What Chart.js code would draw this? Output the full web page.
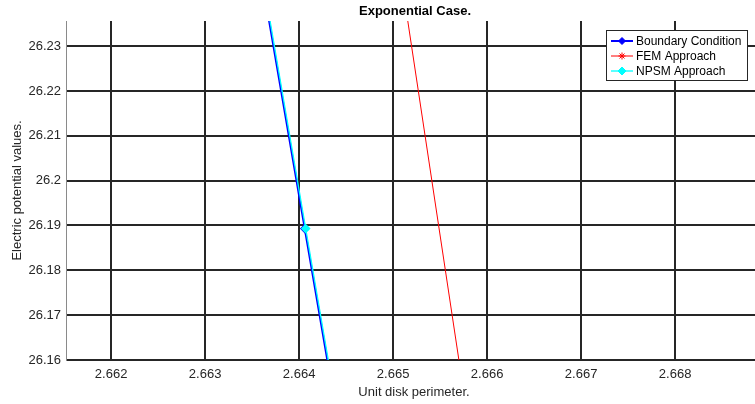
<!DOCTYPE html>
<html>
<head>
<meta charset="utf-8">
<script src="https://cdn.jsdelivr.net/npm/chart.js@4/dist/chart.umd.min.js"></script>
<style>
  html, body { margin: 0; padding: 0; background: #fff; }
  #wrap { width: 755px; height: 404px; position: relative; }
</style>
</head>
<body>
<div id="wrap"><canvas id="c" width="755" height="404"></canvas></div>
<script>
// Perimeter positions and potential values for each method
const boundaryX = [2.66315, 2.66406, 2.66500];
const boundaryY = [26.3005, 26.1893, 26.0746];
const femX = [2.66460, 2.66620];
const femY = [26.3129, 26.0905];
const npsmX = [2.66316, 2.66407, 2.66501];
const npsmY = [26.3005, 26.1893, 26.0746];

// Axis ranges and tick labels
const xRange = [2.66152, 2.66885];
const yRange = [26.16, 26.2356];
const xTicks = [2.662, 2.663, 2.664, 2.665, 2.666, 2.667, 2.668];
const yTicks = [26.16, 26.17, 26.18, 26.19, 26.2, 26.21, 26.22, 26.23];

const titleText = 'Exponential Case.';
const xLabel = 'Unit disk perimeter.';
const yLabel = 'Electric potential values.';

const pts = (xs, ys) => xs.map((x, i) => ({ x: x, y: ys[i] }));
const FONT = '"Liberation Sans", Arial, sans-serif';
const AXIS_COLOR = '#262626';

// Title, axis labels and the legend box
const decorations = {
  id: 'decorations',
  afterDraw(chart) {
    const ctx = chart.ctx;
    const a = chart.chartArea;
    ctx.save();
    ctx.fillStyle = '#000';
    ctx.textAlign = 'center';
    ctx.textBaseline = 'middle';
    ctx.font = 'bold 13px ' + FONT;
    ctx.fillText(titleText, 415, 11);

    ctx.fillStyle = AXIS_COLOR;
    ctx.font = '13px ' + FONT;
    ctx.fillText(xLabel, 414, 392);
    ctx.save();
    ctx.translate(17, (a.top + a.bottom) / 2);
    ctx.rotate(-Math.PI / 2);
    ctx.fillText(yLabel, 0, 0);
    ctx.restore();

    // legend
    const lx = 606.5, ly = 30.5, lw = 141, lh = 50;
    ctx.fillStyle = '#fff';
    ctx.fillRect(lx, ly, lw, lh);
    ctx.strokeStyle = AXIS_COLOR;
    ctx.lineWidth = 1;
    ctx.strokeRect(lx, ly, lw, lh);
    chart.data.datasets.forEach((ds, i) => {
      const y = 41 + i * 15;
      ctx.strokeStyle = ds.borderColor;
      ctx.lineWidth = ds.borderWidth;
      ctx.beginPath();
      ctx.moveTo(611, y);
      ctx.lineTo(633, y);
      ctx.stroke();
      ctx.fillStyle = ds.backgroundColor;
      ctx.lineWidth = 1;
      Chart.helpers.drawPoint(ctx, {
        pointStyle: ds.pointStyle,
        radius: ds.pointRadius,
        borderWidth: 1,
        rotation: 0
      }, 622, y);
      ctx.fillStyle = '#000';
      ctx.textAlign = 'left';
      ctx.font = '12px ' + FONT;
      ctx.fillText(ds.label, 636, y + 0.5);
    });
    ctx.restore();
  }
};

new Chart(document.getElementById('c'), {
  type: 'scatter',
  data: {
    datasets: [
      {
        label: 'Boundary Condition',
        data: pts(boundaryX, boundaryY),
        showLine: true,
        order: 2,
        borderColor: '#0000ff',
        backgroundColor: '#0000ff',
        borderWidth: 2,
        pointStyle: 'rectRot',
        pointRadius: 3.5
      },
      {
        label: 'FEM Approach',
        data: pts(femX, femY),
        showLine: true,
        order: 1,
        borderColor: '#ff0000',
        backgroundColor: '#ff0000',
        borderWidth: 1,
        pointStyle: 'star',
        pointRadius: 3.5
      },
      {
        label: 'NPSM Approach',
        data: pts(npsmX, npsmY),
        showLine: true,
        order: 0,
        borderColor: '#00ffff',
        backgroundColor: '#00ffff',
        borderWidth: 1.3,
        pointStyle: 'rectRot',
        pointRadius: 4
      }
    ]
  },
  options: {
    responsive: false,
    animation: false,
    layout: { autoPadding: false, padding: { top: 21, left: 0, right: 0, bottom: 0 } },
    plugins: {
      legend: { display: false },
      title: { display: false },
      tooltip: { enabled: false }
    },
    elements: { line: { tension: 0 }, point: { borderWidth: 1 } },
    scales: {
      x: {
        type: 'linear',
        min: xRange[0],
        max: xRange[1],
        afterBuildTicks(axis) { axis.ticks = xTicks.map(v => ({ value: v })); },
        afterFit(axis) { axis.height = 44; axis.paddingLeft = 0; axis.paddingRight = 0; },
        grid: { color: AXIS_COLOR, lineWidth: 2, drawTicks: false },
        border: { display: false },
        ticks: {
          color: AXIS_COLOR,
          font: { family: FONT, size: 13 },
          padding: 7,
          maxRotation: 0,
          autoSkip: false,
          callback: v => v.toFixed(3)
        }
      },
      y: {
        type: 'linear',
        min: yRange[0],
        max: yRange[1],
        afterBuildTicks(axis) { axis.ticks = yTicks.map(v => ({ value: v })); },
        afterFit(axis) { axis.width = 66; axis.paddingTop = 0; axis.paddingBottom = 0; },
        grid: { color: AXIS_COLOR, lineWidth: 2, drawTicks: false },
        border: { display: true, color: '#8a8a8a', width: 1 },
        ticks: {
          color: AXIS_COLOR,
          font: { family: FONT, size: 13 },
          padding: 5,
          autoSkip: false,
          callback: v => String(parseFloat(v.toFixed(2)))
        }
      }
    }
  },
  plugins: [decorations]
});
</script>
</body>
</html>
